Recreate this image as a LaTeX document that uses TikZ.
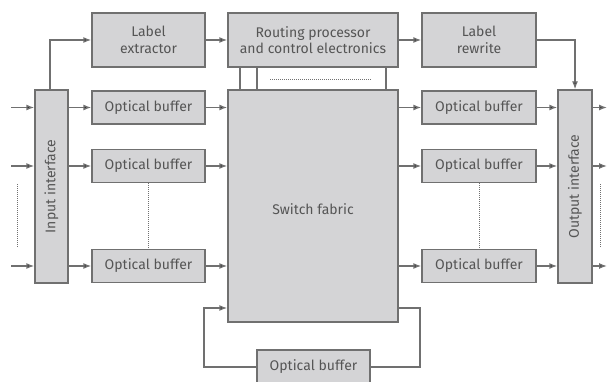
\documentclass[tikz,border=0pt]{standalone}
\usepackage{fontspec}
\setmainfont{Fira Sans}
\usetikzlibrary{arrows.meta,positioning}
\definecolor{boxfill}{HTML}{D4D4D6}
\definecolor{boxline}{HTML}{707070}
\definecolor{txt}{HTML}{555555}
\begin{document}
\begin{tikzpicture}[x=1pt,y=-1pt,
  blk/.style={draw=boxline,fill=boxfill,line width=1.3pt,text=txt,inner sep=0pt,align=center,font=\fontsize{14}{16.5}\selectfont},
  conn/.style={draw=boxline,line width=1.3pt},
  arr/.style={conn,-{Latex[length=8pt,width=6pt,fill=black!85]}},
  dots/.style={draw=boxline,line width=0.9pt,dash pattern=on 1pt off 1pt}]
\useasboundingbox (0,0) rectangle (612,382);
% top row
\node[blk,minimum width=113pt,minimum height=54pt] (lx) at (148.5,40) {Label\\extractor};
\node[blk,minimum width=170pt,minimum height=54pt] (rp) at (313,40) {Routing processor\\and control electronics};
\node[blk,minimum width=114pt,minimum height=54pt] (lr) at (479,40) {Label\\rewrite};
% interfaces
\node[blk,minimum width=33pt,minimum height=193pt] (ii) at (51.5,186.5) {\rotatebox{90}{Input interface}};
\node[blk,minimum width=34pt,minimum height=193pt] (oi) at (575,186.5) {\rotatebox{90}{Output interface}};
% switch fabric
\node[blk,minimum width=170pt,minimum height=232pt] (sf) at (313,206) {};
\node[text=txt,font=\fontsize{14}{16.5}\selectfont] (sft) at (313,209) {Switch fabric};
% buffers
\foreach \n/\y in {1/107.5,2/166,3/266}{
  \node[blk,minimum width=113pt,minimum height=33pt] (bl\n) at (148.5,\y) {Optical buffer};
  \node[blk,minimum width=114pt,minimum height=33pt] (br\n) at (479,\y) {Optical buffer};
  \coordinate (in\n) at (11,\y);
  \coordinate (out\n) at (607,\y);
  \draw[arr] (in\n) -- (ii.west |- in\n);
  \draw[arr] (ii.east |- bl\n) -- (bl\n.west);
  \draw[arr] (bl\n.east) -- (sf.west |- bl\n);
  \draw[arr] (sf.east |- br\n) -- (br\n.west);
  \draw[arr] (br\n.east) -- (oi.west |- br\n);
  \draw[arr] (oi.east |- br\n) -- (out\n);
}
\node[blk,minimum width=113pt,minimum height=34pt] (bb) at (313.5,367) {Optical buffer};
% dotted continuation marks
\coordinate (dl1) at (17,184); \coordinate (dl2) at (17,248);
\coordinate (dr1) at (600,184); \coordinate (dr2) at (600,248);
\draw[dots] (dl1) -- (dl2);
\draw[dots] (dr1) -- (dr2);
\draw[dots] (bl2.south) -- (bl3.north);
\draw[dots] (br2.south) -- (br3.north);
% control path
\coordinate (c1) at (50,40);
\draw[arr] (ii.north -| c1) -- (c1) -- (lx.west);
\draw[arr] (lx.east) -- (rp.west);
\draw[arr] (rp.east) -- (lr.west);
\coordinate (c2) at (575,40);
\draw[arr] (lr.east) -- (c2) -- (oi.north);
% processor to fabric links
\foreach \x in {240,257,386}{ \draw[conn] (\x,67) -- (\x,90); }
\coordinate (pd1) at (270,79); \coordinate (pd2) at (372,79);
\draw[dots] (pd1) -- (pd2);
% recirculation loop
\coordinate (fr) at (398,308); \coordinate (fr2) at (420,308);
\coordinate (fl) at (204,308);
\draw[conn] (fr) -- (fr2) |- (bb.east);
\draw[arr] (bb.west) -| (fl) -- (sf.west |- fl);
\end{tikzpicture}
\end{document}
